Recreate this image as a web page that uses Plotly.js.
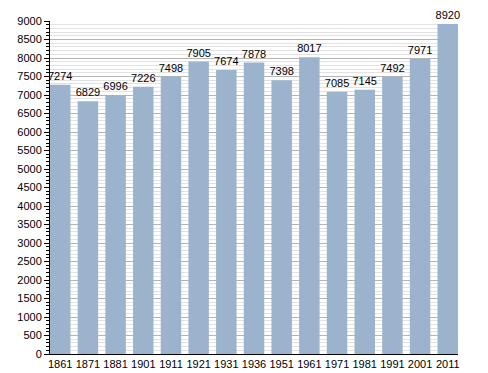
<!DOCTYPE html>
<html><head><meta charset="utf-8">
<script src="https://cdn.plot.ly/plotly-3.0.1.min.js"></script>
<style>html,body{margin:0;padding:0;background:#fff}#c{width:488px;height:373px}</style>
</head><body><div id="c"></div>
<script>
const years = ["1861","1871","1881","1901","1911","1921","1931","1936","1951","1961","1971","1981","1991","2001","2011"];
const population = [7274,6829,6996,7226,7498,7905,7674,7878,7398,8017,7085,7145,7492,7971,8920];
const yTicks = [0,500,1000,1500,2000,2500,3000,3500,4000,4500,5000,5500,6000,6500,7000,7500,8000,8500,9000];

const gap = 0.26;
const w = 1 - gap;
const trace = {
  type: 'bar',
  x: years.map((_, i) => i),
  y: population,
  text: population.map(String),
  textposition: 'outside',
  constraintext: 'none',
  cliponaxis: false,
  textfont: {family: 'Liberation Sans, Arial, sans-serif', size: 11, color: '#000'},
  marker: {color: '#9bb3cc', line: {width: 0}},
  width: w,
  hoverinfo: 'none'
};
const layout = {
  width: 488, height: 373,
  margin: {l: 50, r: 30, t: 21, b: 19},
  paper_bgcolor: '#fff', plot_bgcolor: '#fff',
  showlegend: false,
  font: {family: 'Liberation Sans, Arial, sans-serif', size: 11, color: '#000'},
  xaxis: {
    range: [-w/2, years.length - 1 + w/2],
    tickmode: 'array', tickvals: years.map((_, i) => i), ticktext: years,
    showgrid: false, zeroline: false,
    showline: true, linecolor: '#000', linewidth: 1,
    ticks: '', ticklen: 0,
    tickfont: {size: 11, color: '#000'}
  },
  yaxis: {
    range: [0, 9000],
    tickmode: 'array', tickvals: yTicks, ticktext: yTicks.map(String),
    showgrid: true, gridcolor: '#b4b4b4', gridwidth: 1,
    zeroline: false,
    showline: true, linecolor: '#000', linewidth: 1,
    ticks: 'outside', ticklen: 5, tickcolor: '#000', tickwidth: 1,
    tickfont: {size: 11, color: '#000'},
    minor: {dtick: 100, showgrid: true, gridcolor: '#e2e2e2', gridwidth: 1, ticks: 'outside', ticklen: 3, tickcolor: '#000'}
  },
  bargap: gap
};
Plotly.newPlot('c', [trace], layout, {staticPlot: true, displayModeBar: false});
</script>
</body></html>
